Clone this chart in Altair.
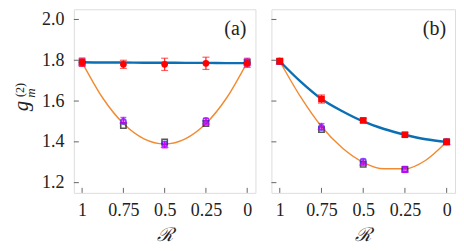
import altair as alt
import pandas as pd

# ---------------- data ----------------
R_pts = [1, 0.75, 0.5, 0.25, 0]
R_curve = [1, 0.875, 0.75, 0.625, 0.5, 0.375, 0.25, 0.125, 0]

# panel (a)
a_red = [1.79, 1.78, 1.78, 1.785, 1.785]
a_red_err = [0.02, 0.02, 0.03, 0.03, 0.02]
a_black = [1.79, 1.48, 1.40, 1.49, 1.79]
a_mag = [1.79, 1.505, 1.385, 1.50, 1.79]
a_mag_err = [0.02, 0.015, 0.015, 0.015, 0.02]
a_blue = [1.79, 1.50, 1.39, 1.505, 1.79]
a_blue_curve = [1.79, 1.789, 1.789, 1.788, 1.788, 1.787, 1.787, 1.786, 1.786]
a_orange_curve = [1.79, 1.615, 1.49, 1.415, 1.39, 1.415, 1.49, 1.615, 1.79]

# panel (b)
b_red = [1.795, 1.61, 1.505, 1.435, 1.40]
b_red_err = [0.01, 0.02, 0.01, 0.01, 0.01]
b_black = [1.795, 1.46, 1.29, 1.265, 1.40]
b_mag = [1.795, 1.475, 1.30, 1.265, 1.40]
b_mag_err = [0.01, 0.015, 0.015, 0.015, 0.01]
b_blue = [1.795, 1.47, 1.305, 1.265, 1.40]
b_blue_curve = [1.795, 1.695, 1.61, 1.55, 1.50, 1.463, 1.435, 1.413, 1.40]
b_orange_curve = [1.795, 1.62, 1.475, 1.37, 1.30, 1.268, 1.268, 1.31, 1.40]

x_ticks = [1, 0.75, 0.5, 0.25, 0]
y_ticks = [1.2, 1.4, 1.6, 1.8, 2.0]

W_A, W_B, H = 182, 184, 184
FRAME = "#666666"
FONT = "Liberation Serif"


def panel(width, red, red_err, black, mag, mag_err, blue, blue_curve, orange_curve,
          label, show_ylabels, red_shape):
    xs = alt.Scale(domain=[-0.05, 1.05], reverse=True, nice=False, zero=False)
    ys = alt.Scale(domain=[1.15, 2.05], nice=False, zero=False)
    xax = alt.Axis(values=x_ticks, format=".2~f", ticks=False, domain=False, grid=False,
                   labelFont=FONT, labelFontSize=18, labelColor="#222", labelPadding=9,
                   title="ℛ", titleFont="DejaVu Serif", titleFontStyle="italic",
                   titleFontWeight="normal", titleFontSize=19, titleColor="#222", titlePadding=6)
    yax = alt.Axis(values=y_ticks, format=".1f", ticks=False, domain=False, grid=False,
                   labels=show_ylabels, labelFont=FONT, labelFontSize=18, labelColor="#222",
                   labelPadding=10, title=None)

    curves = pd.DataFrame({"R": R_curve * 2,
                           "g": blue_curve + orange_curve,
                           "s": ["blue"] * len(R_curve) + ["orange"] * len(R_curve)})
    pts = pd.DataFrame({"R": R_pts, "red": red, "rlo": [v - e for v, e in zip(red, red_err)],
                        "rhi": [v + e for v, e in zip(red, red_err)],
                        "black": black, "mag": mag,
                        "mlo": [v - e for v, e in zip(mag, mag_err)],
                        "mhi": [v + e for v, e in zip(mag, mag_err)],
                        "blue": blue})

    base_c = alt.Chart(curves)
    orange = base_c.transform_filter(alt.datum.s == "orange").mark_line(
        color="#f28a30", strokeWidth=1.4, interpolate="monotone").encode(
        x=alt.X("R:Q", scale=xs, axis=xax), y=alt.Y("g:Q", scale=ys, axis=yax))
    bluel = base_c.transform_filter(alt.datum.s == "blue").mark_line(
        color="#0b6fb3", strokeWidth=2.4, interpolate="monotone").encode(
        x=alt.X("R:Q", scale=xs), y=alt.Y("g:Q", scale=ys))

    bp = alt.Chart(pts)
    blk = bp.mark_point(shape="square", filled=False, color="#111", size=28, strokeWidth=1.6).encode(
        x=alt.X("R:Q", scale=xs), y=alt.Y("black:Q", scale=ys))
    blc = bp.mark_point(shape="circle", filled=False, color="#2a2aff", size=30, strokeWidth=1.5).encode(
        x=alt.X("R:Q", scale=xs), y=alt.Y("blue:Q", scale=ys))
    merr = bp.mark_errorbar(ticks=alt.TickConfig(size=6, thickness=1.2), color="#cc00ff", thickness=1.2).encode(
        x=alt.X("R:Q", scale=xs), y=alt.Y("mlo:Q", scale=ys, title=None), y2="mhi:Q")
    mg = bp.mark_point(shape="triangle-up", filled=False, color="#cc00ff", size=30, strokeWidth=1.6).encode(
        x=alt.X("R:Q", scale=xs), y=alt.Y("mag:Q", scale=ys))
    rerr = bp.mark_errorbar(ticks=alt.TickConfig(size=7, thickness=1.2), color="#ff2020", thickness=1.2).encode(
        x=alt.X("R:Q", scale=xs), y=alt.Y("rlo:Q", scale=ys, title=None), y2="rhi:Q")
    rd = bp.mark_point(shape=red_shape, filled=True, color="#ff0000", size=45, opacity=1).encode(
        x=alt.X("R:Q", scale=xs), y=alt.Y("red:Q", scale=ys))

    yt = alt.Chart(pd.DataFrame({"v": y_ticks})).mark_rule(color=FRAME, strokeWidth=1).encode(
        y=alt.Y("v:Q", scale=ys), x=alt.value(0), x2=alt.value(5))
    xt = alt.Chart(pd.DataFrame({"v": x_ticks})).mark_rule(color=FRAME, strokeWidth=1).encode(
        x=alt.X("v:Q", scale=xs), y=alt.value(H), y2=alt.value(H - 5))

    lab = alt.Chart(pd.DataFrame({"t": [label]})).mark_text(
        font=FONT, fontSize=20, color="#222", align="right", baseline="middle").encode(
        text="t:N", x=alt.value(width - 9), y=alt.value(20))

    layers = [orange, bluel, blk, blc, merr, mg, rerr, rd, yt, xt, lab]
    if show_ylabels:
        g = alt.Chart(pd.DataFrame({"t": ["g"]})).mark_text(
            font=FONT, fontStyle="italic", fontSize=21, color="#222", angle=270,
            align="center", baseline="alphabetic").encode(
            text="t:N", x=alt.value(-46), y=alt.value(97))
        sup = alt.Chart(pd.DataFrame({"t": ["(2)"]})).mark_text(
            font=FONT, fontSize=12, color="#222", angle=270,
            align="center", baseline="alphabetic").encode(
            text="t:N", x=alt.value(-50), y=alt.value(81))
        sub = alt.Chart(pd.DataFrame({"t": ["m"]})).mark_text(
            font=FONT, fontStyle="italic", fontSize=13, color="#222", angle=270,
            align="center", baseline="alphabetic").encode(
            text="t:N", x=alt.value(-39), y=alt.value(84))
        layers += [g, sup, sub]
    return alt.layer(*layers).properties(width=width, height=H)


pa = panel(W_A, a_red, a_red_err, a_black, a_mag, a_mag_err, a_blue, a_blue_curve,
           a_orange_curve, "(a)", True, "circle")
pb = panel(W_B, b_red, b_red_err, b_black, b_mag, b_mag_err, b_blue, b_blue_curve,
           b_orange_curve, "(b)", False, "square")

chart = alt.hconcat(pa, pb, spacing=14).properties(
    padding={"left": 2, "top": 0, "right": 0, "bottom": 0}).configure_view(
    stroke=FRAME, strokeWidth=1.5).configure(background="white")

chart.save("out.html", embed_options={"renderer": "svg", "actions": False})
